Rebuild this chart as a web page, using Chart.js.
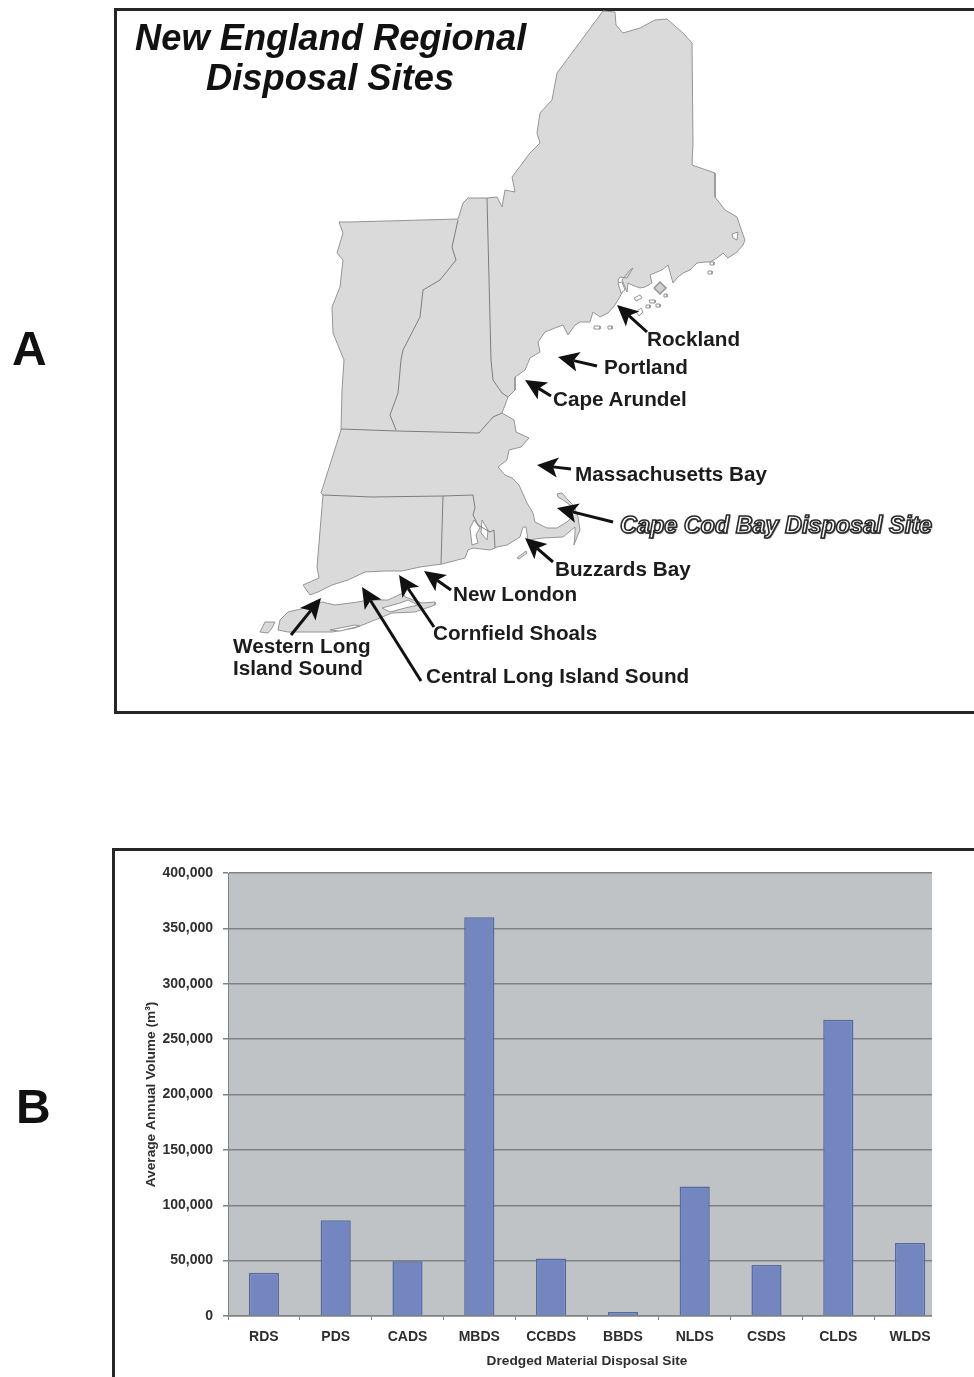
<!DOCTYPE html>
<html>
<head>
<meta charset="utf-8">
<script src="https://cdn.jsdelivr.net/npm/chart.js@4"></script>
<style>
html,body{margin:0;padding:0;background:#fff;width:974px;height:1377px;overflow:hidden;font-family:"Liberation Sans",Arial,sans-serif}
#root{position:absolute;left:0;top:0;width:974px;height:1377px;overflow:hidden;filter:blur(0.4px)}
.frame{position:absolute;box-sizing:border-box;border:3px solid #262626;width:1000px}
#mapWrap,#barWrap{position:absolute}
#mapWrap{left:0;top:0;width:974px;height:720px}
#barWrap{left:116px;top:852px;width:858px;height:525px}
.lbl{position:absolute;white-space:pre;font-weight:bold;color:#1c1c1c;line-height:1;transform:translateY(-50%)}
</style>
</head>
<body>
<div id="root">
<div class="frame" style="left:114px;top:8px;height:706px"></div>
<div class="frame" style="left:112px;top:848px;height:560px"></div>
<div id="mapWrap"><canvas id="map" width="974" height="720"></canvas></div>
<div id="barWrap"><canvas id="bar" width="858" height="525"></canvas></div>
<div id="labels"></div>
</div>
<script>
// ---- Panel B data ----
const categories = ['RDS','PDS','CADS','MBDS','CCBDS','BBDS','NLDS','CSDS','CLDS','WLDS'];
const volumes = [39000,86500,49500,360000,52000,3500,117000,46000,267500,66000];

// ---- Panel A map outlines ----
const mainland = [[603,11],[615,12],[616,25],[623,33],[640,28],[655,20],[667,19],[683,33],[692,43],[693,143],[692,165],[715,173],[715,197],[725,210],[737,217],[742,232],[745,240],[743,245],[737,252],[728,258],[723,253],[717,258],[710,262],[705,262],[697,263],[690,270],[683,273],[677,278],[673,283],[668,265],[662,270],[657,272],[650,275],[652,283],[645,287],[640,288],[632,285],[628,283],[627,292],[622,280],[630,270],[633,268],[627,278],[620,277],[618,280],[622,293],[615,305],[608,313],[600,317],[593,312],[590,322],[580,322],[575,325],[568,335],[563,325],[555,328],[545,332],[538,342],[540,352],[530,358],[525,370],[515,377],[515,390],[508,397],[502,413],[514,420],[516,432],[529,438],[521,447],[509,450],[507,460],[498,467],[505,475],[512,478],[519,485],[527,503],[533,513],[535,522],[547,528],[557,528],[567,522],[572,517],[570,505],[563,500],[558,497],[557,494],[562,493],[568,500],[574,506],[578,517],[580,530],[577,537],[574,545],[575,533],[575,527],[563,537],[543,538],[528,540],[526,527],[523,527],[520,537],[507,545],[497,547],[495,548],[490,550],[473,548],[468,550],[465,558],[442,564],[420,567],[402,571],[385,571],[365,572],[348,580],[332,585],[318,592],[310,595],[303,585],[319,578],[317,567],[323,495],[321,493],[341,430],[342,390],[344,360],[333,333],[332,307],[340,287],[343,260],[337,253],[343,233],[339,222],[350,222],[458,219],[463,203],[468,198],[487,198],[497,197],[502,207],[505,190],[515,192],[512,177],[530,153],[540,143],[537,133],[540,113],[552,100],[557,73]];
const longIsland = [[278,630],[280,620],[288,612],[305,608],[322,602],[335,605],[358,602],[368,600],[388,600],[403,593],[405,597],[422,603],[435,602],[435,605],[415,612],[392,613],[355,628],[332,632],[302,632],[288,632]];
const statenIsland = [[260,632],[265,622],[275,622],[272,628],[268,633]];
const marthasVineyard = [[517,558],[526,551],[527,553],[519,559]];
const mountDesert = [[654,288],[660,282],[666,288],[660,294]];
const smallIslands = [[[636,312],[641,308],[643,312],[639,316]],[[634,298],[640,295],[642,298],[636,301]],[[649,300],[655,300],[655,303],[650,303]],[[656,304],[660,304],[660,307],[656,307]],[[646,305],[650,305],[650,308],[646,308]],[[594,326],[600,326],[600,329],[594,329]],[[608,326],[612,326],[612,329],[608,329]],[[708,271],[712,271],[712,274],[708,274]],[[710,262],[714,262],[714,265],[710,265]],[[664,294],[667,294],[667,297],[664,297]]];
const inlandWhite = [[[470,528],[474,520],[480,528],[476,535],[478,543],[472,545]],[[482,520],[488,530],[487,540],[481,533]],[[382,608],[400,603],[408,600],[418,605],[405,608],[390,612]],[[330,630],[355,625],[360,626],[340,631]],[[732,234],[738,232],[737,240],[733,238]],[[618,283],[622,282],[625,290],[621,293]]];
const vtNhBorder = [[458,220],[452,247],[456,260],[440,280],[423,290],[420,317],[403,350],[401,360],[398,393],[390,415],[396,430]];
const nhMeBorder = [[487,198],[491,360],[493,380],[502,393],[508,397]];
const maNorthBorder = [[341,429],[397,431],[479,433],[493,417],[502,413]];
const ctNorthBorder = [[323,495],[372,497],[443,496],[473,495]];
const ctRiBorder = [[443,496],[441,564]];
const riMaBorder = [[473,495],[475,508],[473,515],[478,525],[490,532],[494,530],[495,548]];

// arrows: tail x, tail y, tip x, tip y
const arrows = [[647,332,617,305],[597,366,558,357],[551,396,525,380],[571,469,537,465],[613,522,557,508],[553,562,525,538],[451,590,424,571],[434,627,399,575],[421,681,362,587],[291,635,321,598]];

const siteLabels = ['Rockland','Portland','Cape Arundel','Massachusetts Bay','Buzzards Bay','New London','Cornfield Shoals','Western Long','Island Sound','Central Long Island Sound'];
const siteLabelX = [647,604,553,575,555,453,433,233,233,426];
const siteLabelY = [339,367,399,474,569,594,633,646,668,676];

const toXY = a => a.map(p => ({x:p[0], y:p[1]}));
const poly = (pts, fillC, strokeC, w) => ({data:toXY(pts), showLine:true, fill:'shape', backgroundColor:fillC, borderColor:strokeC, borderWidth:w, pointRadius:0, tension:0});
const line = (pts) => ({data:toXY(pts), showLine:true, fill:false, borderColor:'#7b7e80', borderWidth:1, pointRadius:0, tension:0});
const closed = a => a.concat([a[0]]);

const LAND='#dadada', COAST='#929596';
// the first dataset is drawn last, so the land comes after everything that sits on it
const mapSets = [
  line(vtNhBorder),line(nhMeBorder),line(maNorthBorder),line(ctNorthBorder),line(ctRiBorder),line(riMaBorder),
  ...inlandWhite.map(a=>poly(closed(a),'#fff',COAST,1)),
  ...smallIslands.map(a=>poly(closed(a),'#fff',COAST,1)),
  poly(closed(mountDesert),'#d0d0d0',COAST,1.5),
  poly(closed(mainland),LAND,COAST,1),
  poly(closed(longIsland),LAND,COAST,1),
  poly(closed(statenIsland),LAND,COAST,1),
  poly(closed(marthasVineyard),LAND,COAST,1)
];

const arrowPlugin = {
  id:'arrows',
  afterDatasetsDraw(chart){
    const {ctx,scales:{x,y}} = chart;
    ctx.save();
    ctx.fillStyle='#111'; ctx.strokeStyle='#111'; ctx.lineWidth=3;
    arrows.forEach(a=>{
      const x1=x.getPixelForValue(a[0]),y1=y.getPixelForValue(a[1]),x2=x.getPixelForValue(a[2]),y2=y.getPixelForValue(a[3]);
      const t=Math.atan2(y2-y1,x2-x1), L=21, W=10;
      const bx=x2-Math.cos(t)*L, by=y2-Math.sin(t)*L, nx=x2-Math.cos(t)*(L-5), ny=y2-Math.sin(t)*(L-5);
      ctx.beginPath();ctx.moveTo(x1,y1);ctx.lineTo(nx,ny);ctx.stroke();
      ctx.beginPath();ctx.moveTo(x2,y2);
      ctx.lineTo(bx-Math.sin(t)*W,by+Math.cos(t)*W);
      ctx.lineTo(nx,ny);
      ctx.lineTo(bx+Math.sin(t)*W,by-Math.cos(t)*W);
      ctx.closePath();ctx.fill();
    });
    ctx.restore();
  }
};

new Chart(document.getElementById('map'),{
  type:'scatter',
  data:{datasets:mapSets},
  plugins:[arrowPlugin],
  options:{
    responsive:false,animation:false,
    layout:{padding:0},
    plugins:{legend:{display:false},tooltip:{enabled:false}},
    scales:{
      x:{type:'linear',min:0,max:974,display:false},
      y:{type:'linear',min:0,max:720,reverse:true,display:false}
    }
  }
});

// In the reference the grey plot stops short of the last category's right edge.
const plotCut = 14;
const plotBg = {
  id:'plotBg',
  beforeDraw(chart){
    const {ctx,chartArea:a}=chart;
    ctx.save();ctx.fillStyle='#bfc3c6';ctx.fillRect(a.left,a.top,a.width,a.height);ctx.restore();
  },
  beforeDatasetsDraw(chart){
    const {ctx,chartArea:a}=chart;
    ctx.save();ctx.fillStyle='#fff';ctx.fillRect(a.right-plotCut,0,plotCut+4,a.bottom+6);ctx.restore();
  }
};
const tickFont={family:'"Liberation Sans"',size:14,weight:'bold'};

new Chart(document.getElementById('bar'),{
  type:'bar',
  data:{labels:categories,datasets:[{data:volumes,backgroundColor:'#7486bf',borderColor:'#5569a1',borderWidth:1.5,barPercentage:0.42,categoryPercentage:1}]},
  plugins:[plotBg],
  options:{
    responsive:false,animation:false,
    layout:{padding:{left:0,right:28,top:21,bottom:0}},
    plugins:{legend:{display:false},tooltip:{enabled:false}},
    scales:{
      x:{
        afterFit(s){s.height=61;},
        grid:{drawOnChartArea:false,drawTicks:true,tickLength:4,tickColor:'#7d8385',lineWidth:1},
        border:{color:'#7d8385',width:1.5},
        ticks:{color:'#2e2e2e',font:tickFont,padding:9,maxRotation:0,autoSkip:false},
        title:{display:true,text:'Dredged Material Disposal Site',color:'#2e2e2e',font:{family:'"Liberation Sans"',size:13.7,weight:'bold'},padding:{top:0,bottom:8}}
      },
      y:{
        min:0,max:400000,
        afterFit(s){s.width=112;},
        grid:{color:'#7d8385',lineWidth:1.5,tickLength:5,tickColor:'#7d8385'},
        border:{color:'#7d8385',width:1},
        ticks:{stepSize:50000,color:'#2e2e2e',font:tickFont,padding:10,callback:v=>v.toLocaleString('en-US')},
        title:{display:true,text:'Average Annual Volume (m³)',color:'#2e2e2e',font:{family:'"Liberation Sans"',size:13.7,weight:'bold'},padding:{top:27,bottom:0}}
      }
    }
  }
});

// ---- Text annotations ----
const host=document.getElementById('labels');
function addText(t,x,y,css){const d=document.createElement('div');d.className='lbl';d.textContent=t;d.style.left=x+'px';d.style.top=y+'px';d.style.cssText+=css||'';host.appendChild(d);}
siteLabels.forEach((t,i)=>addText(t,siteLabelX[i],siteLabelY[i],'font-size:20.7px;'));
addText('Cape Cod Bay Disposal Site',620,526,'font-size:23.4px;font-style:italic;color:#fff;-webkit-text-stroke:1.6px #2a2a2a;text-shadow:1px 1px 1px #666;');
addText('New England Regional',135,38,'font-size:36.3px;font-style:italic;color:#111;');
addText('Disposal Sites',206,78,'font-size:36.3px;font-style:italic;color:#111;');
addText('A',12,349,'font-size:48px;color:#111;');
addText('B',16,1107,'font-size:48px;color:#111;');
</script>
</body>
</html>
